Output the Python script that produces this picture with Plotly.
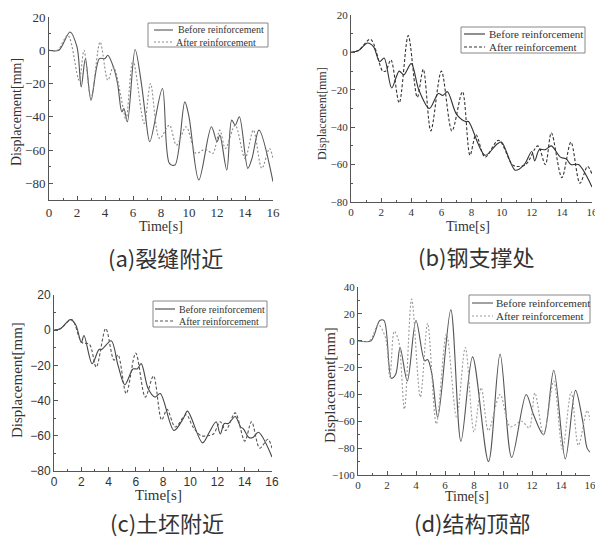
import plotly.graph_objects as go

# ---------------- data ----------------
# (a) 裂缝附近
a_before_t = [0, 0.7, 1.5, 2.0, 2.3, 2.6, 3.0, 3.6, 4.0, 4.2, 4.6, 4.9, 5.2, 5.35, 5.6, 6.15, 6.6, 6.9, 7.2, 8.1,
              8.6, 9.0, 9.7, 10.0, 10.7, 11.6, 12.0, 12.2, 12.7, 13.05, 13.3, 13.6, 14.2, 14.5, 15.0, 16.0]
a_before_y = [0, 0, 11, 2, -22, -5, -30, -5, -5, -3, -10, -20, -37, -35, -43, 0.5, -20, -40, -55, -23,
              -68, -69, -31, -40, -78, -46, -55, -51, -72, -42, -45, -40, -71, -65, -48, -79]
a_after_t = [0, 0.6, 1.35, 2.15, 2.5, 3.0, 3.65, 4.2, 4.6, 5.3, 5.5, 6.0, 6.8, 7.25, 7.9, 8.6, 9.1, 9.8,
             10.5, 11.0, 11.3, 11.7, 12.2, 12.6, 13.3, 14.0, 14.6, 15.2, 15.75, 16.0]
a_after_y = [0, 0, 9, -18, 0, -29, 5, -18, -10, -35, -42, -6, -44, -20, -53, -45, -57, -46,
             -62, -60, -60, -62, -48, -59, -45, -65, -48, -71, -59, -65]

# (b) 钢支撑处
b_before_t = [0, 0.5, 1.1, 1.5, 1.9, 2.2, 2.7, 3.2, 3.5, 4.0, 4.5, 5.2, 5.8, 6.1, 6.4, 7.0, 7.6, 7.8, 8.9,
              9.7, 10.0, 10.9, 11.5, 12.0, 12.2, 12.5, 12.9, 13.3, 13.9, 14.3, 14.6, 15.1, 16.0]
b_before_y = [0, 1, 5, 3, -5, -3, -19, -10, -12, -6, -20, -30, -22, -23, -21, -33, -37, -37, -55,
              -49, -48, -63, -60, -53, -58, -52, -52, -50, -56, -57, -60, -60, -72]
b_after_t = [0, 0.5, 1.3, 2.1, 2.3, 2.65, 3.2, 3.8, 4.4, 4.8, 5.3, 6.0, 6.7, 7.4, 7.9, 8.3, 8.9, 9.8,
             10.7, 11.0, 11.6, 12.4, 12.9, 13.3, 14.0, 14.6, 15.2, 15.7, 16.0]
b_after_y = [0, 1, 7, -10, -10, -4, -27, 9, -24, -9, -42, -10, -42, -21, -55, -44, -56, -47,
             -60, -61, -60, -50, -60, -43, -67, -48, -70, -61, -65]

# (c) 土坯附近
c_before_t = [0, 0.5, 1.2, 1.6, 2.0, 2.2, 2.8, 3.3, 3.5, 4.2, 4.7, 5.2, 5.8, 6.1, 6.4, 6.9, 7.4, 7.8, 8.8,
              9.5, 9.8, 10.9, 11.4, 11.9, 12.2, 12.5, 12.8, 13.3, 13.7, 13.9, 14.3, 14.6, 15.0, 16.0]
c_before_y = [0, 1, 6, 3, -7, -3, -19, -11, -11, -6, -20, -31, -22, -22, -19, -33, -38, -36, -57,
              -50, -46, -64, -58, -52, -59, -53, -53, -49, -55, -56, -61, -61, -58, -72]
c_after_t = [0, 0.5, 1.3, 2.05, 2.6, 3.1, 3.8, 4.4, 4.7, 5.3, 6.0, 6.7, 7.3, 7.9, 8.3, 8.9, 9.7, 10.2,
             10.8, 11.2, 11.7, 12.2, 12.6, 13.3, 14.0, 14.5, 15.1, 15.7, 16.0]
c_after_y = [0, 1, 6, -7, -8, -21, 1, -17, -14, -36, -13, -38, -26, -51, -45, -55, -48, -55,
             -60, -60, -59, -52, -57, -47, -63, -52, -67, -62, -67]

# (d) 结构顶部
d_before_t = [0, 0.9, 1.5, 1.8, 2.3, 2.6, 2.9, 3.4, 4.0, 4.6, 4.8, 5.1, 5.5, 6.4, 7.1, 7.9, 9.0, 9.8,
              10.6, 11.6, 12.1, 12.8, 13.5, 14.3, 15.0, 15.5, 15.8, 16.0]
d_before_y = [0, 0, 15, 15, -28, -25, -5, -30, 15, -15, -14, -25, -57, 23, -75, -12, -90, -10,
              -87, -40, -55, -70, -22, -88, -37, -60, -80, -83]
d_after_t = [0, 0.8, 1.4, 1.9, 2.2, 2.5, 2.8, 3.2, 3.7, 4.3, 4.8, 5.4, 6.1, 6.8, 7.4, 8.0, 8.5, 9.0,
             9.8, 10.5, 11.3, 11.8, 12.2, 12.8, 13.5, 14.1, 14.7, 15.2, 15.8, 16.0]
d_after_y = [0, 0, 12, 2, -27, 7, 0, -51, 31, -42, 13, -62, 5, -57, -5, -68, -35, -67,
             -40, -64, -60, -65, -39, -70, -30, -81, -38, -78, -52, -59]

series_names = ["Before reinforcement", "After reinforcement"]
captions = ["(a)裂缝附近", "(b)钢支撑处", "(c)土坯附近", "(d)结构顶部"]
x_title = "Time[s]"
y_title = "Displacement[mm]"
x_ticks = [0, 2, 4, 6, 8, 10, 12, 14, 16]
y_ranges = [[-90, 20], [-80, 20], [-80, 20], [-100, 40]]

# ---------------- layout helpers ----------------
W, H = 595, 538
def px(x):
    return x / W
def py(y):
    return 1 - y / H

panels = [
    dict(xd=[px(49), px(273)], yd=[py(200), py(17)], tf=("Liberation Serif", 13),
         styles=[dict(color="#555555", dash="solid"), dict(color="#8a8a8a", dash="2px,2px")],
         leg=dict(box=(148, 23, 268, 47), s=(154, 173), rows=(30, 42), tx=(176, 174), fs=10),
         xt=(161, 226, 14), yt=(16, 112, 14), cap=(165, 257)),
    dict(xd=[px(351), px(592)], yd=[py(202), py(15)], tf=("Liberation Serif", 11),
         styles=[dict(color="#333333", dash="solid"), dict(color="#333333", dash="3px,2px")],
         leg=dict(box=(461, 27, 585, 53), s=(464, 485), rows=(34, 47), tx=(487, 487), fs=11),
         xt=(468, 226, 14), yt=(322, 114, 12), cap=(476, 256)),
    dict(xd=[px(54), px(272)], yd=[py(471), py(295)], tf=("Liberation Sans", 12),
         styles=[dict(color="#444444", dash="solid"), dict(color="#555555", dash="3px,2px")],
         leg=dict(box=(153, 301, 267, 327), s=(155, 175), rows=(309, 321), tx=(177, 177), fs=10),
         xt=(158, 495, 15), yt=(17, 380, 15), cap=(167, 522)),
    dict(xd=[px(358), px(590)], yd=[py(475), py(287)], tf=("Liberation Serif", 11),
         styles=[dict(color="#555555", dash="solid"), dict(color="#9a9a9a", dash="2px,2px")],
         leg=dict(box=(469, 295, 590, 323), s=(472, 493), rows=(303, 316), tx=(494, 494), fs=11),
         xt=(467, 496, 14), yt=(330, 385, 15), cap=(472, 522)),
]

data_sets = [
    (a_before_t, a_before_y, a_after_t, a_after_y),
    (b_before_t, b_before_y, b_after_t, b_after_y),
    (c_before_t, c_before_y, c_after_t, c_after_y),
    (d_before_t, d_before_y, d_after_t, d_after_y),
]

fig = go.Figure()
annotations = []
shapes = []
layout = dict(width=W, height=H, margin=dict(l=0, r=0, t=0, b=0),
              paper_bgcolor="white", plot_bgcolor="white", showlegend=False)

for i, (p, ds) in enumerate(zip(panels, data_sets)):
    n = "" if i == 0 else str(i + 1)
    xa, ya = "x" + n, "y" + n
    bt, by, at, ay = ds
    for j, (tt, yy) in enumerate([(bt, by), (at, ay)]):
        fig.add_trace(go.Scatter(
            x=tt, y=yy, mode="lines", name=series_names[j],
            line=dict(color=p["styles"][j]["color"], dash=p["styles"][j]["dash"],
                      width=1.1, shape="spline", smoothing=0.9),
            xaxis=xa, yaxis=ya, hoverinfo="skip"))
    fam, size = p["tf"]
    layout["xaxis" + n] = dict(
        domain=p["xd"], anchor=ya, range=[0, 16], tickvals=x_ticks, automargin=False,
        ticklabeloverflow="allow",
        showline=True, linecolor="#555555", linewidth=1, ticks="inside", ticklen=4,
        tickcolor="#555555", showgrid=False, zeroline=False,
        tickfont=dict(family=fam, size=size, color="#333333"),
        minor=dict(ticks="inside", dtick=1, ticklen=2, tickcolor="#555555", showgrid=False))
    yr = y_ranges[i]
    layout["yaxis" + n] = dict(
        domain=p["yd"], anchor=xa, range=yr, tickmode="linear", tick0=0, dtick=20,
        automargin=False, ticklabeloverflow="allow",
        showline=True, linecolor="#555555", linewidth=1, ticks="inside", ticklen=4,
        tickcolor="#555555", showgrid=False, zeroline=False,
        tickfont=dict(family=fam, size=size, color="#333333"),
        minor=dict(ticks="inside", dtick=10, ticklen=2, tickcolor="#555555", showgrid=False))
    # legend box (drawn with shapes + real text)
    lg = p["leg"]
    x0, y0, x1, y1 = lg["box"]
    shapes.append(dict(type="rect", xref="paper", yref="paper", x0=px(x0), x1=px(x1),
                       y0=py(y1), y1=py(y0), line=dict(color="#888888", width=1),
                       fillcolor="white", layer="above"))
    for j in range(2):
        ry = lg["rows"][j]
        shapes.append(dict(type="line", xref="paper", yref="paper",
                           x0=px(lg["s"][0]), x1=px(lg["s"][1]), y0=py(ry), y1=py(ry),
                           line=dict(color=p["styles"][j]["color"], dash=p["styles"][j]["dash"],
                                     width=1.1), layer="above"))
        annotations.append(dict(text=series_names[j], x=px(lg["tx"][j]), y=py(ry),
                                xref="paper", yref="paper", showarrow=False,
                                xanchor="left", yanchor="middle",
                                font=dict(family="Liberation Serif", size=lg["fs"], color="#333333")))
    xx, xy, xs = p["xt"]
    annotations.append(dict(text=x_title, x=px(xx), y=py(xy), xref="paper", yref="paper",
                            showarrow=False, xanchor="center", yanchor="middle",
                            font=dict(family="Liberation Serif", size=xs, color="#333333")))
    yx, yy_, ys = p["yt"]
    annotations.append(dict(text=y_title, x=px(yx), y=py(yy_), xref="paper", yref="paper",
                            showarrow=False, xanchor="center", yanchor="middle", textangle=-90,
                            font=dict(family="Liberation Serif", size=ys, color="#333333")))
    cx, cy = p["cap"]
    annotations.append(dict(text=captions[i], x=px(cx), y=py(cy), xref="paper", yref="paper",
                            showarrow=False, xanchor="center", yanchor="middle",
                            font=dict(family="Noto Sans CJK SC", size=22, color="#333333")))

layout["annotations"] = annotations
layout["shapes"] = shapes
fig.update_layout(**layout)
fig.write_html("out.html", config={"displayModeBar": False},
               post_script="document.body.style.margin='0';document.body.style.padding='0';")
